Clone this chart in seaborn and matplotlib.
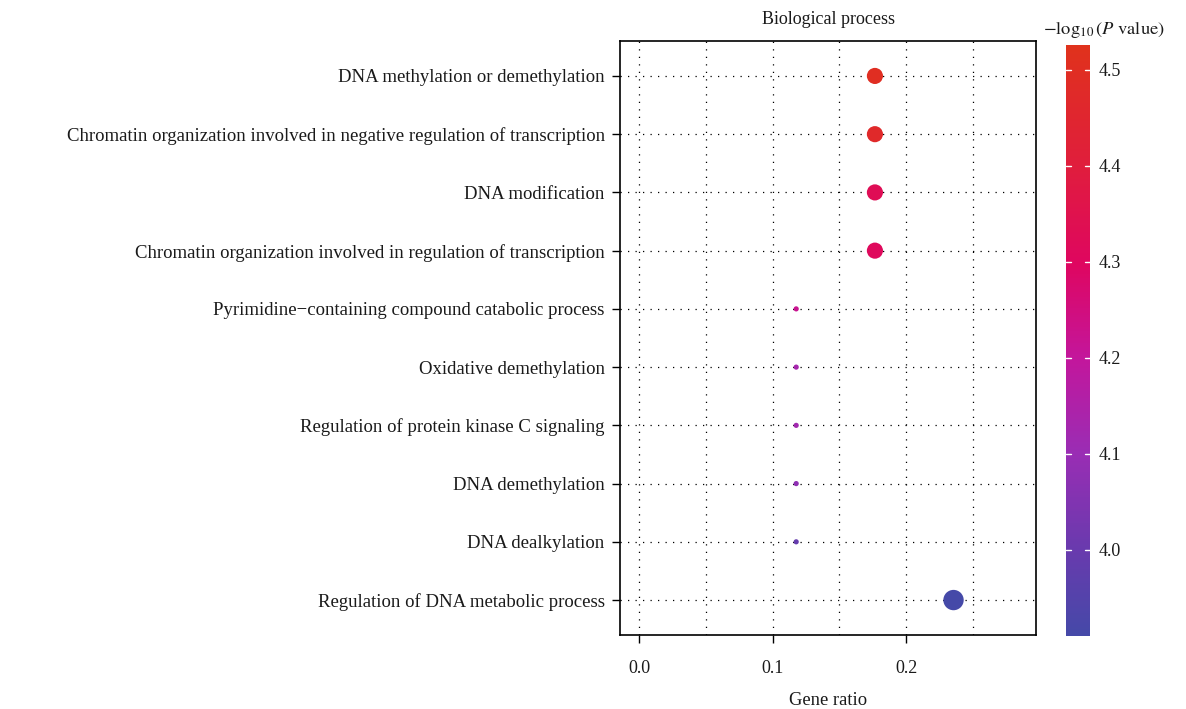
import matplotlib
matplotlib.use("Agg")
import matplotlib.pyplot as plt
import seaborn as sns
import pandas as pd
import numpy as np
from matplotlib.colors import LinearSegmentedColormap, Normalize
from matplotlib.cm import ScalarMappable

terms = [
    "DNA methylation or demethylation",
    "Chromatin organization involved in negative regulation of transcription",
    "DNA modification",
    "Chromatin organization involved in regulation of transcription",
    "Pyrimidine\u2212containing compound catabolic process",
    "Oxidative demethylation",
    "Regulation of protein kinase C signaling",
    "DNA demethylation",
    "DNA dealkylation",
    "Regulation of DNA metabolic process",
]
gene_ratio = [0.1765, 0.1765, 0.1765, 0.1765, 0.1176, 0.1176, 0.1176, 0.1176, 0.1176, 0.2353]
gene_count = [3, 3, 3, 3, 2, 2, 2, 2, 2, 4]
neg_log_p = [4.50, 4.47, 4.33, 4.31, 4.22, 4.13, 4.12, 4.08, 3.99, 3.91]

df = pd.DataFrame({"term": terms, "ratio": gene_ratio, "count": gene_count, "p": neg_log_p})
df["ypos"] = np.arange(len(terms))

sns.set_theme(style="white")
plt.rcParams["font.family"] = ["Liberation Serif", "DejaVu Serif"]
plt.rcParams["mathtext.fontset"] = "stix"

cmap = LinearSegmentedColormap.from_list(
    "bp",
    [(0.0, "#4549a8"), (0.15, "#6a3aae"), (0.31, "#9a2db4"), (0.47, "#c3169c"),
     (0.63, "#df0660"), (0.80, "#e01e3c"), (1.0, "#e0321c")],
)
vmin, vmax = 3.91, 4.526
norm = Normalize(vmin, vmax)

fig = plt.figure(figsize=(11.86, 7.09), dpi=100)
ax = fig.add_axes([620 / 1186, 1 - 635 / 709, 416 / 1186, 594 / 709])

sns.scatterplot(data=df, x="ratio", y="ypos", hue="p", palette=cmap, hue_norm=norm,
                size="count", sizes={2: 14, 3: 135, 4: 215}, legend=False,
                linewidth=0, ax=ax, zorder=3)

ax.set_xlim(-0.0142, 0.297)
ax.set_ylim(len(terms) - 0.4, -0.6)
ax.set_xticks([0.0, 0.1, 0.2])
ax.set_xticklabels(["0.0", "0.1", "0.2"])
ax.set_xticks([0.05, 0.15, 0.25], minor=True)
ax.set_yticks(df["ypos"])
ax.set_yticklabels(terms)
ax.tick_params(axis="y", which="major", length=6, width=1, color="black",
               labelsize=13.5, labelcolor="#1a1a1a", left=True, pad=5)
ax.tick_params(axis="x", which="major", length=6, width=1, color="black",
               labelsize=13, labelcolor="#1a1a1a", bottom=True, pad=12)
ax.tick_params(axis="x", which="minor", length=0)
ax.grid(True, which="both", axis="x", color="black", linestyle=(0, (1, 5)), linewidth=0.9)
ax.grid(True, which="major", axis="y", color="black", linestyle=(0, (1, 5)), linewidth=0.9)
for s in ax.spines.values():
    s.set_color("black")
    s.set_linewidth(1.2)
ax.set_xlabel("Gene ratio", fontsize=13.4, labelpad=11, color="#1a1a1a")
ax.set_ylabel("")
ax.set_title("Biological process", fontsize=13, pad=12, color="#1a1a1a")

cax = fig.add_axes([1066 / 1186, 1 - 636 / 709, 24 / 1186, 591 / 709])
sm = ScalarMappable(norm=norm, cmap=cmap)
cb = fig.colorbar(sm, cax=cax)
cb.set_ticks([4.0, 4.1, 4.2, 4.3, 4.4, 4.5])
cb.ax.tick_params(labelsize=13, length=0, pad=6, labelcolor="#1a1a1a")
cb.outline.set_visible(False)
for t in [4.0, 4.1, 4.2, 4.3, 4.4, 4.5]:
    cax.plot([0, 0.2], [t, t], color="white", lw=1, transform=cax.get_yaxis_transform())
    cax.plot([0.8, 1.0], [t, t], color="white", lw=1, transform=cax.get_yaxis_transform())
fig.text(1104 / 1186, 1 - 30 / 709, r"$-\mathrm{log}_{10}\,(P\ \mathrm{value})$",
         ha="center", va="center", fontsize=13.3, color="#1a1a1a")

fig.savefig("out.png", dpi=100)
